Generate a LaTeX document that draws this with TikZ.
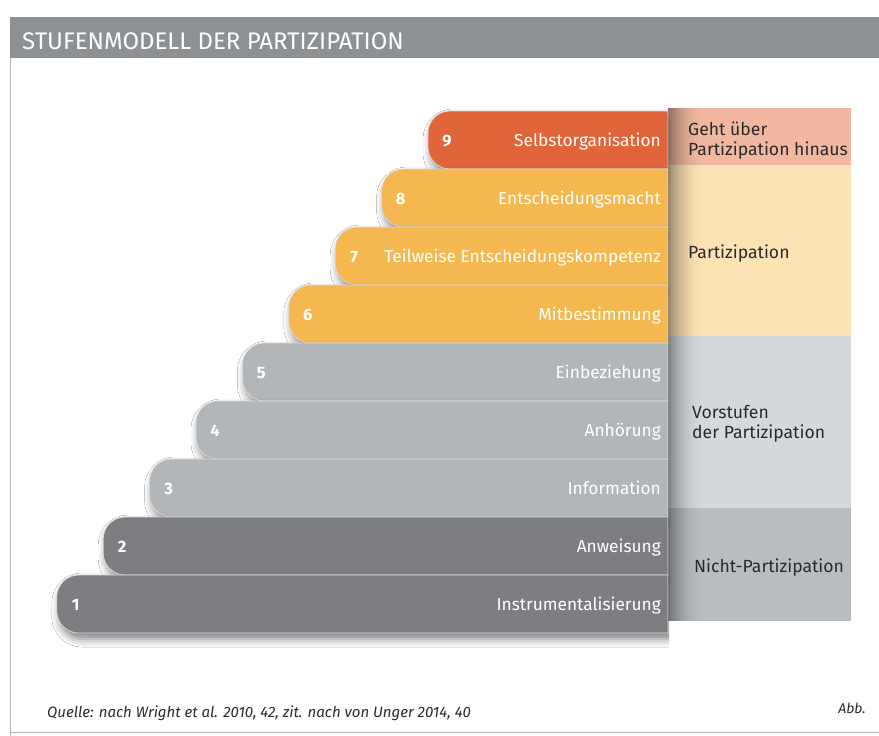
\documentclass[tikz,border=0pt]{standalone}
\usepackage{fontspec}
\setmainfont{Fira Sans}
\usetikzlibrary{shadows.blur}

\definecolor{kopfgrau}{HTML}{8E9194}
\definecolor{stufeRot}{HTML}{E2643A}
\definecolor{stufeGelb}{HTML}{F5B74F}
\definecolor{stufeHell}{HTML}{B3B6B9}
\definecolor{stufeDunkel}{HTML}{7C7E81}
\definecolor{feldRot}{HTML}{F1B7A0}
\definecolor{feldGelb}{HTML}{FCE3B4}
\definecolor{feldHell}{HTML}{D6D9DC}
\definecolor{feldDunkel}{HTML}{BABDC0}
\definecolor{schrift}{HTML}{2B2B2B}

\begin{document}
\begin{tikzpicture}[x=1pt,y=-1pt,
  stufe/.style={fill=#1,draw=white!85!black,line width=0.7pt,
    blur shadow={shadow xshift=3pt,shadow yshift=-6pt,shadow blur radius=8pt,shadow opacity=50}},
  stufentext/.style={text=white,font=\fontsize{17.3}{20}\selectfont,anchor=base east,inner sep=0pt},
  nummer/.style={text=white,font=\fontsize{16.5}{19}\selectfont\bfseries,anchor=base,inner sep=0pt},
  feldtext/.style={text=schrift,font=\fontsize{17.6}{20}\selectfont,anchor=base west,inner sep=0pt,align=left}]
\useasboundingbox (0,0) rectangle (879,736);
\fill[white] (0,0) rectangle (879,736);

% Kopfzeile und Rahmen
\fill[kopfgrau] (10,17) rectangle (879,58);
\node[text=white,font=\fontsize{24}{26}\selectfont,anchor=base west,inner sep=0pt] (titel) at (22,49) {STUFENMODELL DER PARTIZIPATION};
\draw[gray!60,line width=0.8pt] (10,58) -- (10,736);
\draw[gray!60,line width=0.8pt] (10,732) -- (879,732);

% rechte Spalte
\fill[feldRot]    (668,108) rectangle (851,165);
\fill[feldGelb]   (668,165) rectangle (851,336);
\fill[feldHell]   (668,336) rectangle (851,508);
\fill[feldDunkel] (668,508) rectangle (851,621);
\foreach \i in {0,...,35}{
  \pgfmathsetmacro\deck{0.4*(1-\i/36)^2}
  \fill[black,opacity=\deck] (668+\i,108) rectangle (669+\i,621);
}
\node[feldtext] (f9) at (688,155) {Geht über\\Partizipation hinaus};
\node[feldtext] (f6) at (688,258) {Partizipation};
\node[feldtext] (f3) at (692,438) {Vorstufen\\der Partizipation};
\node[feldtext] (f1) at (694,572) {Nicht-Partizipation};

% Stufen 9 bis 1
\begin{scope}
\clip (0,60) rectangle (669,700);
\foreach \k/\name/\farbe in {9/Selbstorganisation/stufeRot,
    8/Entscheidungsmacht/stufeGelb,
    7/Teilweise Entscheidungskompetenz/stufeGelb,
    6/Mitbestimmung/stufeGelb,
    5/Einbeziehung/stufeHell,
    4/Anhörung/stufeHell,
    3/Information/stufeHell,
    2/Anweisung/stufeDunkel,
    1/Instrumentalisierung/stufeDunkel}{
  \pgfmathsetmacro\oben{111+(9-\k)*58}
  \pgfmathsetmacro\unten{\oben+58}
  \pgfmathsetmacro\links{428-(9-\k)*46.4}
  \draw[stufe=\farbe] (668,\oben) [rounded corners=22pt] -- (\links,\oben) -- (\links,\unten) [sharp corners] -- (668,\unten) -- cycle;
  \node[nummer] (n\k) at (\links+19,\oben+35) {\k};
  \node[stufentext] (t\k) at (661,\oben+35) {\name};
}
\end{scope}

\node[text=schrift,font=\fontsize{15}{17}\selectfont\itshape,anchor=base west,inner sep=0pt] (quelle) at (47,717) {Quelle: nach Wright et al. 2010, 42, zit. nach von Unger 2014, 40};
\node[text=schrift,font=\fontsize{14}{16}\selectfont\itshape,anchor=base east,inner sep=0pt] (abb) at (866,713) {Abb.};
\end{tikzpicture}
\end{document}
